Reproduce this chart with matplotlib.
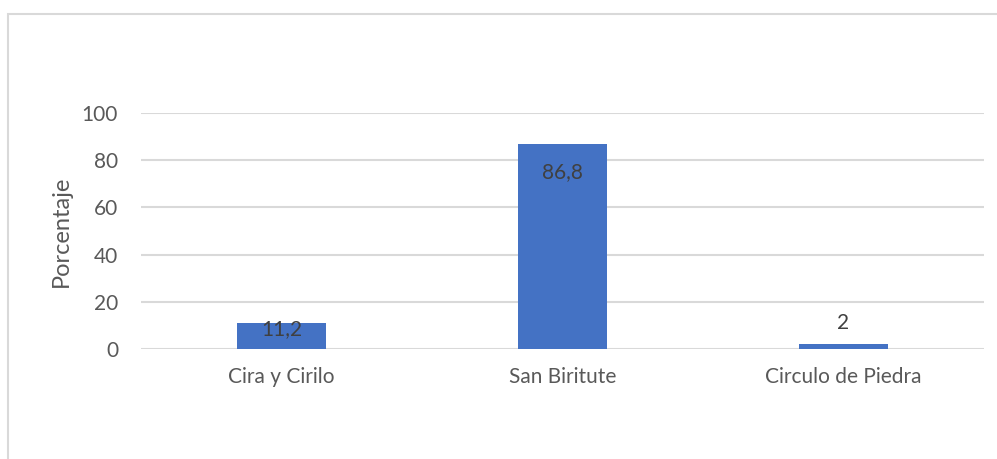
import matplotlib.pyplot as plt
from matplotlib.patches import Rectangle

categories = ["Cira y Cirilo", "San Biritute", "Circulo de Piedra"]
values = [11.2, 86.8, 2]
value_labels = ["11,2", "86,8", "2"]


def main():
    plt.rcParams["font.family"] = ["Lato", "DejaVu Sans"]
    fig = plt.figure(figsize=(9.97, 4.59), dpi=100)

    # outer chart border, like the spreadsheet frame
    fig.patches.append(Rectangle((8 / 997, -0.1), 1.2, 1 - 14 / 459 + 0.1,
                                 transform=fig.transFigure, fill=False,
                                 edgecolor="#D9D9D9", linewidth=1.5))

    ax = fig.add_axes([141 / 997, 1 - 349 / 459, 843 / 997, 236 / 459])
    x = range(len(categories))
    bars = ax.bar(x, values, width=0.317, color="#4472C4", zorder=3)

    ax.set_xlim(-0.5, len(categories) - 0.5)
    ax.set_ylim(0, 100)
    ax.set_yticks(range(0, 101, 20))
    ax.set_xticks(list(x))
    ax.set_xticklabels(categories)
    ax.grid(axis="y", color="#D9D9D9", linewidth=1.5, zorder=0)
    ax.set_axisbelow(True)
    for s in ax.spines.values():
        s.set_visible(False)
    ax.tick_params(length=0, labelsize=15, colors="#595959")
    ax.tick_params(axis="y", pad=16.5)
    ax.tick_params(axis="x", pad=13)
    ax.set_ylabel("Porcentaje", fontsize=17, color="#595959", labelpad=7)

    for bar, v, lab in zip(bars, values, value_labels):
        cx = bar.get_x() + bar.get_width() / 2
        if v >= 50:
            off = -20
        elif v >= 5:
            off = -5
        else:
            off = 15
        ax.annotate(lab, (cx, v), xytext=(0, off), textcoords="offset points",
                    ha="center", va="center", fontsize=15, color="#404040")

    fig.savefig("out.png", dpi=100)


if __name__ == "__main__":
    main()
